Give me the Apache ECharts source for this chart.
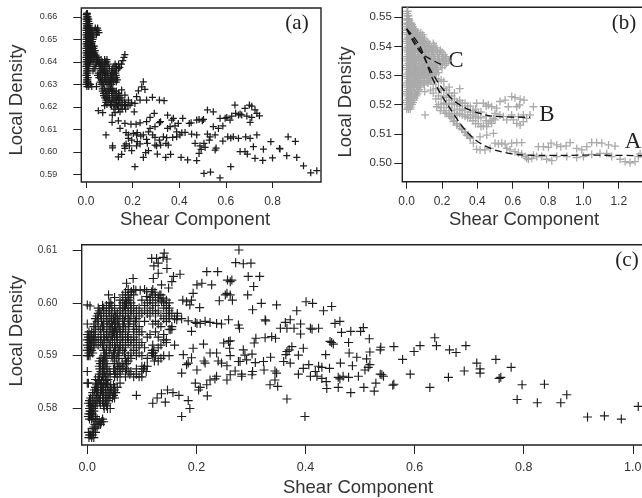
<!DOCTYPE html>
<html><head><meta charset="utf-8">
<script src="https://cdn.jsdelivr.net/npm/echarts@6/dist/echarts.min.js"></script>
<style>html,body{margin:0;padding:0;background:#fff;overflow:hidden}#c{width:642px;height:498px}</style>
</head><body><div id="c"></div>
<script>
const xTicksA=[0,0.2,0.4,0.6,0.8], yTicksA=[0.59,0.60,0.61,0.62,0.63,0.64,0.65,0.66];
const xTicksB=[0,0.2,0.4,0.6,0.8,1.0,1.2], yTicksB=[0.50,0.51,0.52,0.53,0.54,0.55];
const xTicksC=[0,0.2,0.4,0.6,0.8,1.0], yTicksC=[0.58,0.59,0.60,0.61];

// panel (a): dense part as [y, x, x, ...] rows, sparse part as [x, y]
const aRows=[
[.6615,.003,.006],[.660,.002,.006,.009],[.658,.003,.007,.012],[.656,.002,.006,.01,.014],
[.654,0,.005,.01,.016,.022,.03,.038,.045,.052],[.652,0,.006,.012,.02,.028,.045],[.650,0,.004,.01,.016,.024,.03],
[.648,0,.005,.01,.018,.026],[.646,0,.004,.012,.02,.028,.034],[.644,0,.006,.014,.022,.03,.038],
[.642,0,.004,.01,.018,.026,.034,.042,.05],[.640,0,.005,.012,.02,.03,.05,.058,.07,.085,.09],
[.638,0,.004,.012,.04,.06,.068,.078,.09,.12,.13],[.636,.002,.008,.03,.065,.075,.085,.11,.125],
[.634,0,.006,.05,.06,.07,.08,.09,.105,.115,.13],[.632,.002,.008,.065,.08,.1,.115,.125,.135],
[.630,0,.006,.012,.02,.065,.075,.09,.1,.11],[.629,.004,.012,.025,.045],[.628,.07,.08,.095,.105,.115],
[.626,.075,.09,.11,.125,.14],[.624,.08,.09,.1,.12,.135,.15],[.622,.085,.095,.11,.13,.145,.165],
[.6205,.08,.11,.125,.135,.15,.165,.18],[.619,.12,.14,.155,.17],
[.661,.001,.005],[.659,0,.004,.008,.012],[.657,.001,.004,.008,.012,.016],[.655,.001,.004,.009,.013,.018,.04,.05],[.653,.002,.007,.012,.018,.024,.03,.05,.056],[.651,.002,.007,.012,.018,.024,.03],[.649,.002,.007,.012,.017,.022,.028],[.647,.002,.007,.012,.017,.024,.03,.036],[.645,.002,.008,.016,.024,.032,.04],[.643,.002,.008,.015,.02,.028,.036,.044],[.641,.002,.008,.015,.023,.035,.045,.055,.065,.08,.09],[.639,.002,.008,.016,.045,.055,.062,.072,.082,.095,.125,.14],[.637,.004,.01,.035,.06,.07,.08,.1,.115,.13,.14],[.635,.002,.008,.052,.062,.072,.082,.092,.11,.12,.128],[.633,.004,.01,.055,.062,.072,.085,.095,.11,.12,.13],[.631,.002,.008,.06,.07,.085,.095,.105,.118,.13],[.627,.07,.085,.1,.11,.12,.13],[.625,.075,.085,.095,.115,.13,.145],[.623,.085,.1,.115,.125,.14,.155],[.621,.09,.105,.12,.13,.14,.155,.17]];
const aSparse=[[.086,.6075],[.114,.6027],[.114,.6018],[.139,.5978],[.153,.5989],[.21,.5934],[.172,.6035],[.165,.6027],[.196,.6005],[.217,.6027],[.22,.6045],[.246,.5975],[.256,.5996],[.268,.6005],[.306,.599],[.303,.6027],[.342,.5975],[.363,.5989],[.408,.5975],[.436,.5964],[.475,.5961],[.485,.5993],[.494,.6011],[.506,.5904],[.534,.591],[.575,.5884],[.621,.5934],[.554,.6008],[.558,.6017],[.661,.6001],[.682,.6001],[.692,.599],[.725,.5971],[.758,.5962],[.8,.5973],[.83,.6015],[.832,.6013],[.861,.5983],[.904,.5975],[.933,.5938],[.964,.5907],[.99,.5916],[.867,.6067],[.898,.6046],[.793,.6045],[.718,.6023],[.761,.6012],[.733,.6075],[.704,.606],[.685,.6066],[.654,.606],[.632,.6067],[.608,.6067],[.621,.6061],[.587,.6048],[.554,.6075],[.532,.6067],[.521,.6079],[.529,.6052],[.506,.6038],[.475,.6075],[.468,.6038],[.489,.6027],[.511,.602],[.521,.6186],[.546,.6178],[.639,.6208],[.642,.6171],[.654,.6164],[.625,.6159],[.618,.6141],[.604,.6153],[.575,.6149],[.597,.6149],[.587,.6115],[.568,.6104],[.546,.6112],[.668,.6164],[.682,.6193],[.701,.6208],[.711,.6203],[.725,.6186],[.744,.616],[.733,.6171],[.711,.6153],[.704,.6131],[.69,.6159],[.661,.6168],[.485,.6144],[.504,.6144],[.499,.6138],[.475,.6141],[.451,.6129],[.443,.6126],[.415,.6149],[.375,.6149],[.35,.6163],[.368,.6141],[.396,.6126],[.293,.6171],[.275,.6153],[.26,.6134],[.32,.6134],[.315,.613],[.232,.6129],[.215,.6123],[.193,.6123],[.167,.6126],[.139,.6138],[.112,.6131],[.146,.6104],[.172,.6085],[.182,.6075],[.203,.6082],[.22,.6085],[.246,.6075],[.268,.6089],[.275,.6104],[.296,.6112],[.332,.6067],[.35,.6104],[.361,.6112],[.382,.6115],[.389,.6089],[.403,.6075],[.425,.6086],[.453,.6079],[.182,.606],[.196,.6052],[.217,.6075],[.235,.607],[.26,.6055],[.286,.6075],[.296,.6064],[.315,.6052],[.346,.6063],[.372,.6064],[.389,.6067],[.411,.6085],[.353,.603],[.343,.6038],[.32,.603],[.296,.603],[.263,.6038],[.232,.6035],[.186,.6026],[.167,.6015],[.167,.6432],[.163,.642],[.158,.6405],[.152,.639],[.145,.6375],[.246,.6311],[.239,.6289],[.253,.6277],[.225,.6271],[.217,.6245],[.26,.623],[.285,.6242],[.315,.623],[.335,.6227],[.232,.623],[.21,.6215],[.189,.6208],[.196,.6218],[.207,.6178],[.153,.6275],[.167,.6252],[.182,.623],[.053,.6183],[.072,.6174],[.113,.6163],[.125,.6174],[.146,.6178]];

// panel (b)
const bRows=[
[.552,.002,.006],[.5505,.005,.01],[.549,0,.008,.015],[.548,0,.01,.02,.025],[.5468,0,.012,.025,.035],
[.5455,0,.01,.02,.03,.04,.05],[.544,.005,.015,.028,.04,.055,.07,.09],[.5425,0,.012,.024,.036,.05,.065,.08,.1],
[.541,.005,.02,.035,.05,.065,.085,.105,.125,.15],[.5395,0,.012,.028,.042,.06,.08,.1,.12,.14,.165],
[.538,.006,.02,.036,.05,.07,.09,.11,.13,.15,.175,.2],[.5365,0,.015,.03,.045,.065,.085,.105,.125,.15,.175,.2,.22],
[.535,.005,.02,.04,.055,.075,.1,.12,.14,.16,.185,.21,.235],[.5335,0,.015,.03,.05,.07,.09,.11,.135,.16,.19,.215],
[.532,.005,.02,.04,.06,.08,.1,.125,.15,.175],[.5305,0,.015,.03,.05,.07,.09,.11,.14,.165],
[.529,.005,.02,.04,.06,.08,.1,.125,.15],[.5275,0,.015,.03,.05,.07,.095,.12],[.526,.005,.02,.04,.06,.08],
[.5245,0,.012,.028,.045,.065],[.523,.005,.02,.035,.055],[.5215,0,.012,.025,.04],[.52,.005,.015,.03],
[.5185,0,.01,.02],
[.5512,.002],[.5495,.004,.012],[.5475,.005,.015,.03],[.546,.005,.015,.025,.035,.045],[.5447,.002,.012,.024,.035,.048,.062,.08],[.5432,.008,.02,.032,.045,.06,.075,.09],[.5417,.002,.015,.03,.042,.058,.075,.095,.115],[.5402,.008,.02,.035,.05,.07,.09,.11,.13,.155],[.5387,.002,.015,.03,.045,.065,.085,.105,.125,.145,.17,.19],[.5372,.01,.025,.04,.06,.08,.1,.12,.14,.16,.185,.21],[.5357,.004,.018,.035,.052,.07,.09,.11,.13,.155,.18,.205,.225],[.5342,.01,.025,.045,.065,.085,.105,.13,.15,.175,.2,.225],[.5327,.002,.018,.035,.055,.075,.095,.12,.145,.17,.2],[.5312,.01,.025,.045,.065,.085,.105,.13,.155],[.5297,.002,.018,.035,.055,.075,.095,.12,.145],[.5282,.01,.025,.045,.065,.085,.11,.135],[.5267,.002,.018,.035,.055,.075,.1],[.5252,.008,.025,.045,.07],[.5237,.002,.015,.03,.05,.06],[.5222,.01,.025,.045],[.5207,.002,.018,.035],[.5192,.008,.022]];
const bSparse=[[.104,.5165],[.102,.5245],[.377,.5068],[.396,.5047],[.415,.5045],[.443,.5045],[.472,.505],[.5,.5068],[.519,.5065],[.538,.5068],[.557,.5065],[.566,.505],[.594,.5068],[.623,.507],[.651,.507],[.585,.5045],[.613,.5039],[.632,.5035],[.651,.5031],[.67,.5022],[.689,.5013],[.708,.5016],[.679,.5016],[.717,.5027],[.745,.5056],[.774,.5056],[.802,.5054],[.817,.5068],[.849,.5062],[.872,.5056],[.902,.5059],[.925,.507],[.962,.505],[.991,.5045],[1.019,.5056],[1.047,.507],[1.075,.507],[1.104,.5068],[1.142,.5062],[1.179,.5058],[1.132,.5033],[1.094,.5033],[1.047,.503],[1.0,.5022],[.962,.5019],[.906,.5022],[.849,.5022],[.821,.5008],[.792,.5013],[.764,.5022],[.736,.5022],[1.208,.5013],[1.236,.5005],[1.264,.5001],[1.292,.5005],[1.311,.5022],[1.321,.5031],[1.16,.5022],
[.17,.5193],[.19,.518],[.217,.5171],[.245,.516],[.264,.5142],[.283,.513],[.311,.5118],[.33,.5107],[.34,.5096],[.358,.509],[.415,.509],[.453,.5096],[.491,.5102],[.453,.5125],[.481,.5136],[.5,.5148],[.396,.5205],[.434,.5205],[.462,.5199],[.481,.5193],[.509,.5188],[.528,.5211],[.557,.5216],[.575,.5193],[.594,.5228],[.613,.5224],[.642,.5219],[.664,.5216],[.623,.5193],[.638,.5199],[.5,.517],[.528,.5165],[.491,.5153],[.462,.5136],[.434,.5127],[.472,.5145],[.547,.5159],[.604,.5148],[.623,.5136],[.642,.513],[.66,.5142],[.679,.5153],[.698,.5165],[.717,.5193],[.66,.5165],[.566,.5148],[.594,.5165],[.632,.5159]];
const bBand=[[.12,.5275,.53,.5325,.535],[.15,.524,.527,.53,.533],[.18,.52,.523,.5255,.528,.531],[.21,.518,.5205,.523,.5255,.528],[.24,.5165,.519,.5215,.524,.526],[.27,.5145,.517,.52,.522,.524],[.30,.5125,.517,.5195,.5215,.5255],[.33,.5105,.516,.5185,.5205],[.36,.5085,.5155,.5175,.5195],[.39,.5135,.516,.5185],[.42,.5125,.5155,.5175],[.45,.5145,.516,.5195],
[.135,.525,.5285,.531,.534],[.165,.522,.5255,.529,.532],[.195,.519,.522,.525,.5285],[.225,.517,.52,.5225,.525],[.255,.5155,.518,.5205,.523],[.285,.5135,.5165,.5185,.521],[.315,.5115,.5165,.518,.5205],[.345,.5095,.5155,.5165,.5195],[.375,.5145,.5165,.518],[.405,.5135,.5155,.517]];
const curveA=[[0,.546],[.075,.54],[.15,.5285],[.264,.517],[.358,.5096],[.453,.5056],[.566,.5035],[.68,.5027],[.83,.5026],[1.02,.5027],[1.36,.5025]];
const curveB=[[0,.546],[.075,.5388],[.151,.5302],[.226,.5239],[.302,.5199],[.415,.517],[.528,.5159],[.698,.5157]];
const curveC=[[0,.546],[.075,.5382],[.151,.5351],[.211,.5334]];

// panel (c)
const cRows=[
[.5745,.003,.008,.012],[.5755,.002,.011,.015],[.5765,.012,.018],[.5775,.016,.022,.026,.03],[.578,.004,.008,.012,.018,.028],
[.579,.003,.006,.009],[.58,.004,.008,.012,.031,.037,.042],[.581,.002,.006,.012,.018,.024,.03,.036],[.582,.006,.014,.02,.028,.034,.04,.046,.05],
[.583,.01,.017,.024,.029,.04,.047,.052],[.584,.015,.02,.028,.034,.042,.05,.055],[.5848,0,.002,.018,.025,.03,.035,.06],
[.5855,.015,.022,.03,.038],[.586,.02,.028,.033,.05,.055,.07,.085,.095,.1],[.587,0,.025,.032,.04,.052,.06,.07,.075,.08,.1,.108],
[.588,.022,.028,.036,.055,.06,.067,.1,.105,.11],[.589,.022,.028,.032,.05,.07,.075,.123,.13],[.59,0,.002,.005,.03,.034,.045,.05,.058,.075,.09,.1,.12,.125,.14,.15],
[.591,0,.004,.008,.03,.035,.05,.058,.065,.085,.119,.122],[.592,0,.006,.012,.02,.028,.04,.05,.06,.07,.08,.095,.12,.135,.16],
[.593,0,.004,.01,.014,.025,.032,.042,.05,.06,.07,.08,.09,.14,.145],[.594,0,.005,.012,.025,.035,.045,.05,.055,.065,.075,.095,.115,.14],
[.595,.015,.024,.03,.042,.05,.06,.07,.085,.09,.15],[.596,0,.014,.03,.04,.045,.05,.055,.065,.075,.085,.12,.13],
[.597,.015,.02,.03,.04,.048,.055,.065,.075,.09,.14,.15,.16],[.598,.02,.025,.035,.045,.055,.065,.075,.085,.1,.11,.125,.145,.155,.165],
[.599,.02,.03,.04,.05,.065,.07,.08,.095,.115,.14,.15],[.6,.04,.065,.072,.08,.11,.12,.14,.15],[.601,.05,.07,.075,.115,.125,.13],[.602,.07,.08],
[.575,.004,.006,.01],[.5762,.009,.014],[.577,.014,.02,.024],[.5785,.002,.005,.01,.015],[.5795,.005,.007,.012],[.5805,.006,.01,.015,.03,.035],[.5815,.004,.009,.016,.022,.028,.033,.038],[.5825,.01,.018,.024,.03,.036,.042,.048],[.5835,.013,.019,.026,.033,.038,.044,.05],[.5845,.017,.024,.03,.037,.043,.048],[.5853,.02,.026,.034],[.5865,.022,.028,.036,.042,.05,.06,.078,.09],[.5875,.023,.03,.036,.048,.056,.064,.072,.09,.103],[.5885,.024,.03,.034,.05,.058,.064,.072],[.5895,.025,.03,.036,.047,.054,.07,.08,.11,.135],[.5905,.003,.01,.032,.04,.048,.056,.068,.08,.095,.118,.121,.12],[.5915,.002,.006,.012,.03,.042,.052,.06,.07,.09,.105,.13],[.5925,.003,.008,.016,.024,.036,.046,.055,.065,.075,.085,.1,.145],[.5935,.002,.007,.012,.02,.03,.038,.046,.054,.064,.074,.085,.11,.13],[.5945,.003,.008,.015,.03,.04,.048,.053,.06,.07,.085,.1,.125],[.5955,.012,.02,.028,.036,.046,.052,.058,.066,.076,.095,.135,.155],[.5965,.018,.026,.036,.044,.05,.058,.068,.078,.088,.105,.125,.145],[.5975,.018,.025,.035,.044,.052,.06,.07,.08,.095,.115,.135,.15,.165],[.5985,.022,.03,.04,.05,.06,.07,.08,.09,.105,.12,.13,.15],[.5995,.028,.035,.045,.06,.068,.075,.085,.105,.125,.145],[.6005,.06,.07,.078,.1,.115,.13,.145],[.6015,.065,.075,.085,.12,.135],[.6025,.075,.085,.12,.105]];
const cSparse=[[.278,.61],[.272,.6076],[.286,.6074],[.3,.6075],[.219,.6059],[.239,.6059],[.295,.605],[.316,.605],[.305,.6031],[.294,.6015],[.228,.6034],[.257,.6043],[.265,.6043],[.262,.604],[.256,.6018],[.253,.6015],[.262,.6015],[.266,.6005],[.242,.6004],[.319,.5999],[.347,.5996],[.303,.5987],[.384,.5985],[.401,.6002],[.413,.5999],[.326,.5968],[.327,.5966],[.363,.5963],[.372,.5968],[.354,.5952],[.366,.5952],[.379,.5952],[.391,.596],[.409,.5952],[.412,.595],[.391,.5941],[.424,.5952],[.326,.5934],[.338,.5936],[.345,.5933],[.309,.5933],[.306,.5924],[.375,.5917],[.366,.5908],[.364,.5902],[.37,.5911],[.396,.5914],[.387,.5901],[.286,.5911],[.302,.5903],[.289,.5901],[.292,.5892],[.28,.5889],[.277,.5889],[.308,.5887],[.323,.5889],[.336,.5897],[.36,.5889],[.372,.5886],[.406,.5883],[.396,.5876],[.387,.5865],[.409,.5861],[.421,.5861],[.424,.588],[.418,.587],[.324,.5873],[.344,.5871],[.347,.5867],[.344,.5854],[.335,.5845],[.349,.5842],[.366,.5818],[.399,.5785],[.303,.587],[.302,.5864],[.283,.5861],[.283,.5865],[.271,.5871],[.256,.5854],[.262,.5864],[.259,.5927],[.262,.5928],[.25,.5924],[.261,.5914],[.237,.5905],[.225,.5905],[.262,.59],[.24,.589],[.246,.5886],[.256,.5881],[.213,.5922],[.194,.5914],[.191,.5896],[.214,.589],[.216,.5886],[.201,.5873],[.185,.5886],[.182,.5883],[.173,.5867],[.176,.5902],[.237,.5861],[.234,.5856],[.225,.5854],[.219,.5845],[.207,.584],[.198,.5848],[.22,.5824],[.204,.5835],[.216,.5965],[.225,.5963],[.237,.5961],[.246,.596],[.259,.5968],[.277,.5958],[.279,.5952],[.207,.5961],[.201,.5961],[.191,.5946],[.198,.5963],[.185,.5966],[.173,.597],[.164,.5968],[.155,.595],[.152,.5949],[.182,.6002],[.191,.6005],[.188,.5996],[.206,.5991],[.194,.6018],[.201,.6034],[.21,.6037],[.175,.6005],[.118,.6084],[.127,.6084],[.141,.6094],[.146,.6083],[.139,.6086],[.13,.6075],[.122,.607],[.146,.6065],[.13,.6056],[.121,.6046],[.17,.6054],[.158,.605],[.155,.604],[.149,.6028],[.136,.6034],[.084,.6046],[.072,.6037],[.089,.6024],[.081,.6021],[.097,.6024],[.109,.6021],[.118,.6021],[.124,.602],[.109,.6012],[.133,.6015],[.139,.6009],[.136,.6002],[.039,.6015],[.043,.6],[0,.5996],[.005,.5994],
[.09,.5825],[.12,.581],[.128,.582],[.136,.5828],[.143,.5812],[.147,.5835],[.157,.583],[.168,.5825],[.185,.5815],[.188,.58],[.173,.5785],
[.448,.5993],[.433,.5985],[.454,.5961],[.463,.5965],[.466,.5944],[.483,.5946],[.501,.5946],[.506,.5953],[.517,.5932],[.448,.5925],[.445,.5927],[.451,.5922],[.479,.5925],[.538,.5916],[.537,.5911],[.562,.5917],[.518,.5907],[.48,.5905],[.494,.5897],[.437,.5902],[.512,.5894],[.518,.5883],[.515,.5878],[.464,.5886],[.486,.5881],[.509,.5873],[.444,.5876],[.43,.5878],[.497,.5861],[.479,.5859],[.469,.5861],[.46,.5859],[.463,.5856],[.54,.5864],[.537,.5865],[.543,.5861],[.438,.5851],[.439,.5838],[.46,.584],[.483,.583],[.507,.584],[.526,.5833],[.529,.5848],[.562,.5846],[.56,.5844],[.578,.5893],[.599,.5908],[.61,.5919],[.592,.5865],[.637,.5934],[.64,.5919],[.664,.5911],[.676,.5906],[.694,.5919],[.628,.584],[.662,.5859],[.691,.5871],[.714,.5886],[.72,.5875],[.72,.5867],[.749,.5893],[.777,.5878],[.755,.5857],[.758,.5859],[.797,.5845],[.838,.5846],[.788,.5817],[.825,.5811],[.868,.5811],[.879,.5826],[.917,.5784],[.948,.5786],[.979,.578],[1.01,.5804],[.43,.5857]];

const toPts=rows=>rows.flatMap(r=>r.slice(1).map(x=>[x,r[0]]));
const bandPts=bBand.flatMap(r=>r.slice(1).map(y=>[r[0],y]));
const PLUS='path://M0,-1L0,1M-1,0L1,0';
const INK='#222', FONT='"Liberation Sans",Arial,sans-serif', SERIF='"Liberation Serif","Times New Roman",serif';

function xAxis(i,min,max,ticks,len,margin,fs){return {gridIndex:i,type:'value',min,max,
  axisLine:{show:false,onZero:false},splitLine:{show:false},
  axisTick:{show:true,length:len,lineStyle:{color:INK,width:1},customValues:ticks},
  axisLabel:{show:true,customValues:ticks,margin,color:'#333',fontFamily:FONT,fontSize:fs,formatter:v=>v.toFixed(1)}};}
function yAxis(i,min,max,ticks,len,margin,fs){return {gridIndex:i,type:'value',min,max,
  axisLine:{show:false,onZero:false},splitLine:{show:false},
  axisTick:{show:true,length:len,lineStyle:{color:INK,width:1},customValues:ticks},
  axisLabel:{show:true,customValues:ticks,margin,color:'#333',fontFamily:FONT,fontSize:fs,formatter:v=>v.toFixed(2)}};}
function cloud(i,data,size,color,width){return {type:'scatter',xAxisIndex:i,yAxisIndex:i,data,symbol:PLUS,symbolSize:size,
  itemStyle:{color:'transparent',borderColor:color,borderWidth:width,opacity:1},silent:true,animation:false};}
function dash(curve){return {type:'line',xAxisIndex:1,yAxisIndex:1,data:curve,smooth:0.4,showSymbol:false,z:5,
  lineStyle:{color:'#111',width:1.3,type:[7,4]},animation:false};}
function label(text,x,y,size){return {type:'text',x,y,style:{text,fontFamily:SERIF,fontSize:size,fill:'#222',textAlign:'center',textVerticalAlign:'middle'}};}
function xname(x,y){return {type:'text',x,y,style:{text:'Shear Component',fontFamily:FONT,fontSize:18.5,fill:'#333',textAlign:'center',textVerticalAlign:'middle'}};}
function yname(x,y){return {type:'text',x,y,rotation:Math.PI/2,style:{text:'Local Density',fontFamily:FONT,fontSize:18.5,fill:'#333',textAlign:'center',textVerticalAlign:'middle'}};}

const chart=echarts.init(document.getElementById('c'),null,{renderer:'canvas'});
const border={show:true,borderColor:INK,borderWidth:1.4,backgroundColor:'transparent',outerBoundsMode:'none',containLabel:false};
chart.setOption({
  animation:false,
  grid:[
    {left:81.3,top:8,width:239.7,height:174,...border},
    {left:402.3,top:7.3,width:245,height:174.4,...border},
    {left:81.7,top:244.7,width:565,height:200.3,...border}],
  xAxis:[xAxis(0,-0.02,1.008,xTicksA,6,14,12),xAxis(1,-0.0249,1.3616,xTicksB,7,14,12),xAxis(2,-0.01027,1.0255,xTicksC,9,16,12.5)],
  yAxis:[yAxis(0,0.5866,0.6639,yTicksA,8,24,9),yAxis(1,0.4936,0.5534,yTicksB,8,10.5,11.5),yAxis(2,0.5731,0.611,yTicksC,9,24.5,10)],
  series:[
    cloud(0,toPts(aRows).concat(aSparse),7,'#1c1c1c',1.25),
    cloud(1,toPts(bRows).concat(bandPts,bSparse),8,'#aaa',1.3),
    dash(curveA),dash(curveB),dash(curveC),
    cloud(2,toPts(cRows).concat(cSparse),9,'#1c1c1c',1.15)],
  graphic:[
    label('(a)',297,23,21),label('(b)',624,23,21),label('(c)',627,260,21),
    label('A',633,142,23),label('B',547,115,23),label('C',456,61,23),
    xname(195,220),xname(524,220),xname(358,488),
    yname(17,100),yname(346,102),yname(17,331)]
});
</script></body></html>
